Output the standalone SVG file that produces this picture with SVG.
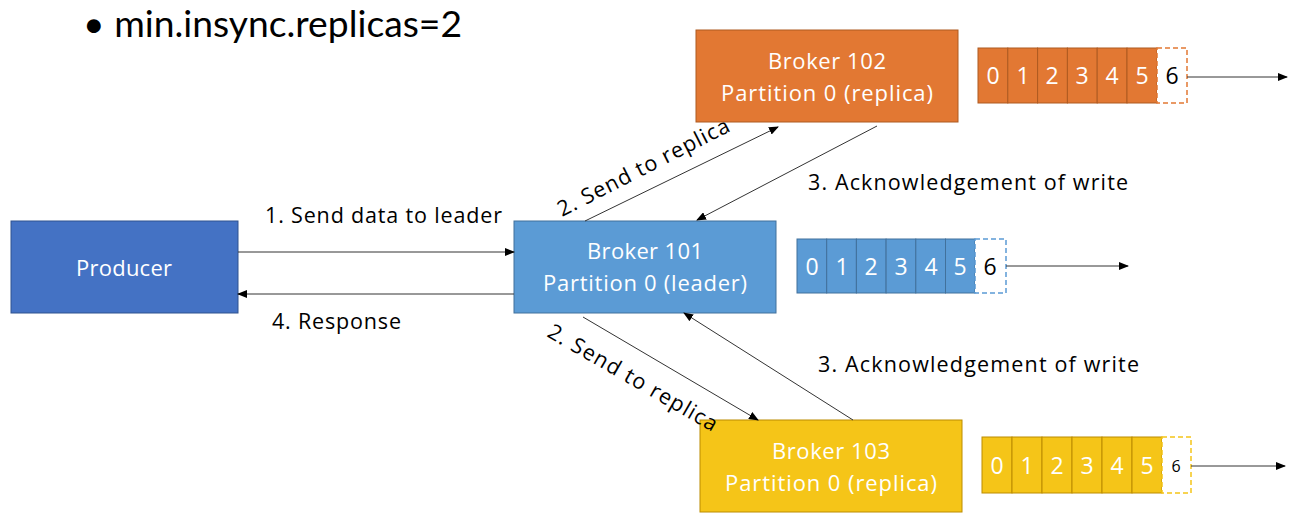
<svg xmlns="http://www.w3.org/2000/svg" width="1299" height="532" viewBox="0 0 1299 532">
<defs>
<marker id="ah" markerWidth="10" markerHeight="8" refX="9" refY="4" orient="auto" markerUnits="userSpaceOnUse">
<path d="M0,0 L10,4 L0,8 Z" fill="#000"/>
</marker>
<style>
.lbl{font-family:"Open Sans","Liberation Sans",sans-serif;font-size:21.5px;fill:#000}
.btxt{font-family:"Open Sans","Liberation Sans",sans-serif;font-size:22px;fill:#fff;text-anchor:middle}
.cell{font-family:"Open Sans","Liberation Sans",sans-serif;font-size:23px;fill:#fff;text-anchor:middle}
.c6{font-family:"Open Sans","Liberation Sans",sans-serif;font-size:23px;fill:#000;text-anchor:middle}
.conn{stroke:#333;stroke-width:1;fill:none;marker-end:url(#ah)}
</style>
</defs>
<rect width="1299" height="532" fill="#fff"/>
<text x="83" y="37" font-family="Lato,'Open Sans',sans-serif" font-size="36" fill="#000" textLength="379" lengthAdjust="spacingAndGlyphs">• min.insync.replicas=2</text>

<g id="producer">
<rect x="11" y="221" width="227" height="92" fill="#4472C4" stroke="#2F528F" stroke-width="1"/>
<text class="btxt" x="124" y="276" textLength="96">Producer</text>
</g>
<g id="broker101">
<rect x="514" y="221" width="262" height="92" fill="#5B9BD5" stroke="#41719C" stroke-width="1"/>
<text class="btxt" x="645" y="259" textLength="116">Broker 101</text>
<text class="btxt" x="645" y="291" textLength="204">Partition 0 (leader)</text>
</g>
<g id="broker102">
<rect x="696" y="30" width="262" height="92" fill="#E27833" stroke="#AE5A21" stroke-width="1"/>
<text class="btxt" x="827" y="69" textLength="118">Broker 102</text>
<text class="btxt" x="827" y="101" textLength="212">Partition 0 (replica)</text>
</g>
<g id="broker103">
<rect x="700" y="420" width="262" height="92" fill="#F5C518" stroke="#BC8C00" stroke-width="1"/>
<text class="btxt" x="831" y="459" textLength="118">Broker 103</text>
<text class="btxt" x="831" y="491" textLength="212">Partition 0 (replica)</text>
</g>

<g id="log102">
<g fill="#E27833" stroke="#AE5A21" stroke-width="1">
<rect x="978" y="48" width="29.8" height="55"/><rect x="1007.8" y="48" width="29.8" height="55"/><rect x="1037.6" y="48" width="29.8" height="55"/><rect x="1067.4" y="48" width="29.8" height="55"/><rect x="1097.2" y="48" width="29.8" height="55"/><rect x="1127" y="48" width="30" height="55"/>
</g>
<rect x="1157" y="48" width="30" height="55" fill="#fff" stroke="#E27833" stroke-width="1.5" stroke-dasharray="5,3"/>
<g class="cell"><text x="993" y="84">0</text><text x="1023" y="84">1</text><text x="1052" y="84">2</text><text x="1082" y="84">3</text><text x="1112" y="84">4</text><text x="1142" y="84">5</text></g>
<text class="c6" x="1172" y="84">6</text>
</g>
<g id="log101">
<g fill="#5B9BD5" stroke="#41719C" stroke-width="1">
<rect x="797" y="239" width="29.7" height="54"/><rect x="826.7" y="239" width="29.7" height="54"/><rect x="856.4" y="239" width="29.7" height="54"/><rect x="886.1" y="239" width="29.7" height="54"/><rect x="915.8" y="239" width="29.7" height="54"/><rect x="945.5" y="239" width="29.5" height="54"/>
</g>
<rect x="975" y="239" width="31" height="54" fill="#fff" stroke="#5B9BD5" stroke-width="1.5" stroke-dasharray="5,3"/>
<g class="cell"><text x="812" y="275">0</text><text x="842" y="275">1</text><text x="871" y="275">2</text><text x="901" y="275">3</text><text x="931" y="275">4</text><text x="960" y="275">5</text></g>
<text class="c6" x="990" y="275">6</text>
</g>
<g id="log103">
<g fill="#F5C518" stroke="#BC8C00" stroke-width="1">
<rect x="982" y="437" width="30" height="56"/><rect x="1012" y="437" width="30" height="56"/><rect x="1042" y="437" width="30" height="56"/><rect x="1072" y="437" width="30" height="56"/><rect x="1102" y="437" width="30" height="56"/><rect x="1132" y="437" width="30" height="56"/>
</g>
<rect x="1162" y="437" width="29" height="56" fill="#fff" stroke="#F5C518" stroke-width="1.5" stroke-dasharray="5,3"/>
<g class="cell"><text x="997" y="474">0</text><text x="1027" y="474">1</text><text x="1057" y="474">2</text><text x="1087" y="474">3</text><text x="1117" y="474">4</text><text x="1147" y="474">5</text></g>
<text class="c6" x="1176" y="472" style="font-size:16px">6</text>
</g>

<g id="connectors">
<line class="conn" x1="238" y1="252" x2="514" y2="252"/>
<line class="conn" x1="514" y1="294" x2="238" y2="294"/>
<line class="conn" x1="585" y1="221" x2="778" y2="127"/>
<line class="conn" x1="877" y1="126" x2="697" y2="220"/>
<line class="conn" x1="583" y1="317" x2="758" y2="420"/>
<line class="conn" x1="853" y1="420" x2="684" y2="313"/>
<line class="conn" x1="1187" y1="77" x2="1287" y2="77"/>
<line class="conn" x1="1006" y1="266" x2="1128" y2="266"/>
<line class="conn" x1="1191" y1="466" x2="1285" y2="466"/>
</g>

<g id="labels">
<text class="lbl" x="265" y="223" textLength="237">1. Send data to leader</text>
<text class="lbl" x="272" y="329" textLength="129">4. Response</text>
<text class="lbl" x="808" y="190" textLength="320">3. Acknowledgement of write</text>
<text class="lbl" x="818" y="372" textLength="321">3. Acknowledgement of write</text>
<text class="lbl" transform="translate(562,217) rotate(-27)" textLength="190">2. Send to replica</text>
<text class="lbl" transform="translate(546,336) rotate(30)" textLength="192">2. Send to replica</text>
</g>
</svg>
